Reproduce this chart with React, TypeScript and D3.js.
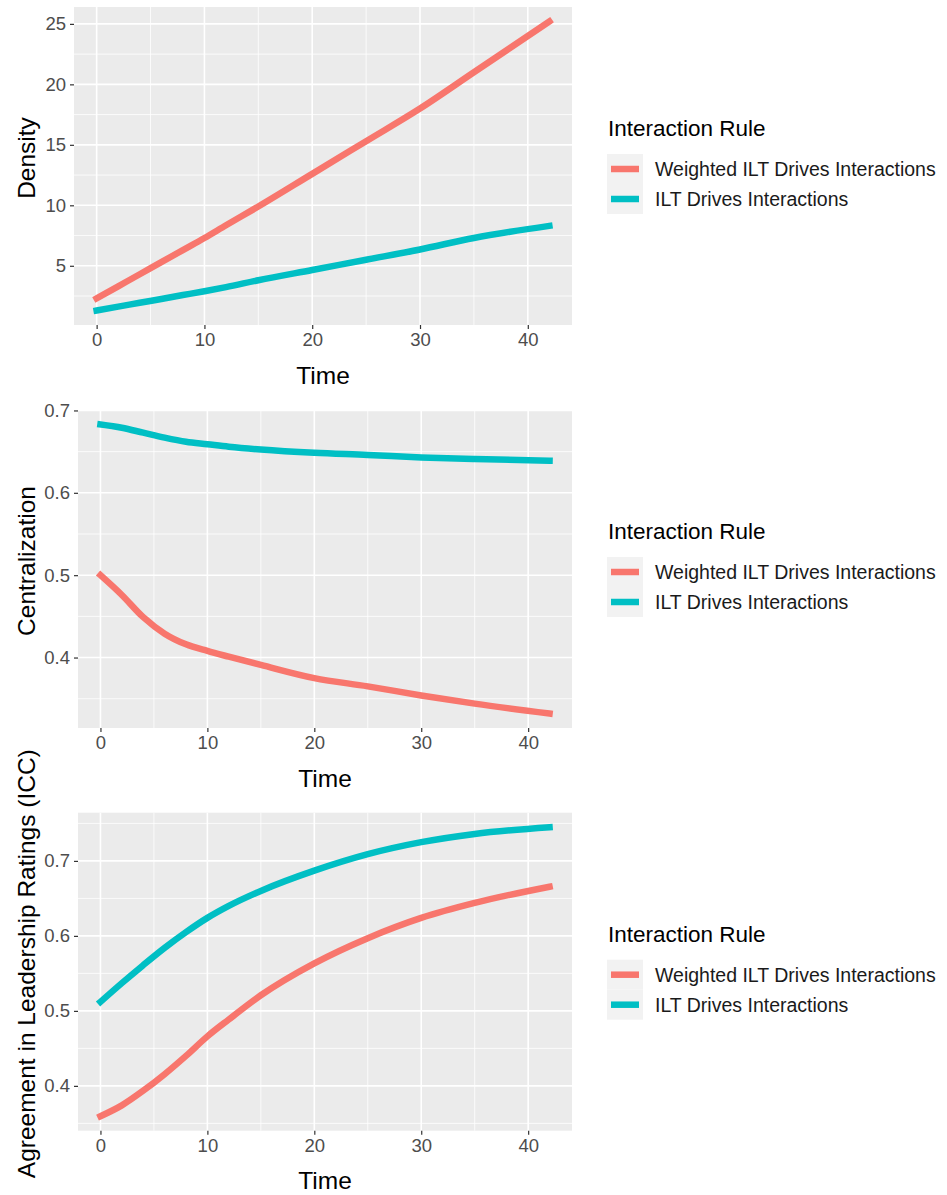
import { useEffect, useRef } from 'react';
import * as d3 from 'd3';

// time steps
const timePoints = [0, 2, 4, 6, 8, 10, 12, 15, 20, 25, 30, 35, 42];

// Density
const densityWeighted = [2.3, 3.3, 4.3, 5.3, 6.3, 7.3, 8.35, 9.9, 12.6, 15.3, 18.0, 21.0, 25.2];
const densityIlt = [1.3, 1.62, 1.94, 2.26, 2.58, 2.9, 3.24, 3.8, 4.65, 5.5, 6.35, 7.3, 8.3];

// Centralization
const centralWeighted = [0.5, 0.476, 0.449, 0.429, 0.416, 0.408, 0.401, 0.391, 0.375, 0.365, 0.354, 0.344, 0.332];
const centralIlt = [0.683, 0.679, 0.673, 0.667, 0.662, 0.659, 0.656, 0.6525, 0.6485, 0.646, 0.643, 0.641, 0.639];

// Agreement (ICC)
const agreeWeighted = [0.3595, 0.374, 0.3935, 0.4156, 0.44, 0.466, 0.4885, 0.5208, 0.5634, 0.597, 0.624, 0.644, 0.6656];
const agreeIlt = [0.512, 0.537, 0.561, 0.584, 0.605, 0.624, 0.64, 0.66, 0.687, 0.709, 0.725, 0.736, 0.745];

const seriesNames = ['Weighted ILT Drives Interactions', 'ILT Drives Interactions'];
const seriesColors = ['#F8766D', '#00BFC4'];
const legendTitle = 'Interaction Rule';
const xTitle = 'Time';
const xTicks = [0, 10, 20, 30, 40];
const xMinor = [5, 15, 25, 35];

const densityTicks = [5, 10, 15, 20, 25];
const ratioTicks = [0.4, 0.5, 0.6, 0.7];

const FONT = '"Liberation Sans", Arial, sans-serif';

const App = () => {
    const svgRef = useRef<SVGSVGElement>(null);

    useEffect(() => {
        const svg = d3.select(svgRef.current);
        svg.selectAll('*').remove();

        const panels = [
            { title: 'Density', series: [densityWeighted, densityIlt], ticks: densityTicks, fmt: (d: number) => String(d), top: 7, left: 74 },
            { title: 'Centralization', series: [centralWeighted, centralIlt], ticks: ratioTicks, fmt: d3.format('.1f'), top: 410, left: 78 },
            { title: 'Agreement in Leadership Ratings (ICC)', series: [agreeWeighted, agreeIlt], ticks: ratioTicks, fmt: d3.format('.1f'), top: 812.7, left: 78 },
        ];
        const right = 572;
        const panelH = 318;

        panels.forEach(p => {
            const bottom = p.top + panelH;
            const g = svg.append('g');

            // ggplot-ish 5% expansion
            const xExt = d3.extent(timePoints) as [number, number];
            const xPad = (xExt[1] - xExt[0]) * 0.05;
            const x = d3.scaleLinear().domain([xExt[0] - xPad, xExt[1] + xPad]).range([p.left, right]);

            const allY = p.series.flat();
            const yExt = d3.extent(allY) as [number, number];
            const yPad = (yExt[1] - yExt[0]) * 0.05;
            const y = d3.scaleLinear().domain([yExt[0] - yPad, yExt[1] + yPad]).range([bottom, p.top]);

            // panel background
            g.append('rect')
                .attr('x', p.left).attr('y', p.top)
                .attr('width', right - p.left).attr('height', panelH)
                .attr('fill', '#EBEBEB');

            // minor grid
            const step = p.ticks[1] - p.ticks[0];
            const yMinor = [p.ticks[0] - step / 2, ...p.ticks.map(t => t + step / 2)]
                .filter(v => v > y.domain()[0] && v < y.domain()[1]);
            g.selectAll('.ymin').data(yMinor).enter().append('line')
                .attr('x1', p.left).attr('x2', right)
                .attr('y1', d => y(d)).attr('y2', d => y(d))
                .attr('stroke', '#fff').attr('stroke-width', 0.8);
            g.selectAll('.xmin').data(xMinor).enter().append('line')
                .attr('y1', p.top).attr('y2', bottom)
                .attr('x1', d => x(d)).attr('x2', d => x(d))
                .attr('stroke', '#fff').attr('stroke-width', 0.8);

            // major grid
            g.selectAll('.ymaj').data(p.ticks).enter().append('line')
                .attr('x1', p.left).attr('x2', right)
                .attr('y1', d => y(d)).attr('y2', d => y(d))
                .attr('stroke', '#fff').attr('stroke-width', 1.6);
            g.selectAll('.xmaj').data(xTicks).enter().append('line')
                .attr('y1', p.top).attr('y2', bottom)
                .attr('x1', d => x(d)).attr('x2', d => x(d))
                .attr('stroke', '#fff').attr('stroke-width', 1.6);

            // axes
            const xAxis = g.append('g')
                .attr('transform', `translate(0,${bottom})`)
                .call(d3.axisBottom(x).tickValues(xTicks).tickSize(4).tickPadding(4).tickFormat(d => String(d)));
            const yAxis = g.append('g')
                .attr('transform', `translate(${p.left},0)`)
                .call(d3.axisLeft(y).tickValues(p.ticks).tickSize(4).tickPadding(4).tickFormat(d => p.fmt(d as number)));
            [xAxis, yAxis].forEach(a => {
                a.select('.domain').remove();
                a.selectAll('line').attr('stroke', '#333').attr('stroke-width', 1.2);
                a.selectAll('text')
                    .style('font-family', FONT)
                    .style('font-size', '18.5px')
                    .attr('fill', '#4D4D4D');
            });

            // lines
            const line = d3.line<number>()
                .x((_, i) => x(timePoints[i]))
                .y(d => y(d))
                .curve(d3.curveMonotoneX);
            p.series.forEach((s, i) => {
                g.append('path')
                    .attr('d', line(s))
                    .attr('fill', 'none')
                    .attr('stroke', seriesColors[i])
                    .attr('stroke-width', 6.5)
                    .attr('stroke-linecap', 'square');
            });

            // axis titles
            g.append('text')
                .attr('x', (p.left + right) / 2)
                .attr('y', bottom + 50)
                .attr('dy', '0.35em')
                .attr('text-anchor', 'middle')
                .style('font-family', FONT)
                .style('font-size', '24.5px')
                .attr('fill', '#000')
                .text(xTitle);

            g.append('text')
                .attr('transform', `translate(26,${p.top + panelH / 2 - 8}) rotate(-90)`)
                .attr('dy', '0.35em')
                .attr('text-anchor', 'middle')
                .style('font-family', FONT)
                .style('font-size', '24.5px')
                .attr('fill', '#000')
                .text(p.title);

            // legend
            const ly = p.top + panelH / 2 - 38;
            const legend = g.append('g').attr('transform', `translate(607,${ly})`);
            legend.append('text')
                .attr('x', 1).attr('y', 0).attr('dy', '0.35em')
                .style('font-family', FONT)
                .style('font-size', '22.5px')
                .attr('fill', '#000')
                .text(legendTitle);
            const item = legend.selectAll('.item').data(seriesNames).enter().append('g')
                .attr('transform', (_, i) => `translate(0,${26 + i * 30})`);
            item.append('rect')
                .attr('width', 36).attr('height', 30)
                .attr('fill', '#F2F2F2');
            item.append('line')
                .attr('x1', 4).attr('x2', 32)
                .attr('y1', 15).attr('y2', 15)
                .attr('stroke', (_, i) => seriesColors[i])
                .attr('stroke-width', 6.5);
            item.append('text')
                .attr('x', 48).attr('y', 15).attr('dy', '0.35em')
                .style('font-family', FONT)
                .style('font-size', '19.5px')
                .attr('fill', '#1a1a1a')
                .text(d => d);
        });
    }, []);

    return (
        <div style={{ position: 'absolute', left: 0, top: 0 }}>
            <svg ref={svgRef} width={947} height={1195} style={{ display: 'block', background: '#fff' }}></svg>
        </div>
    );
};

export default App;
